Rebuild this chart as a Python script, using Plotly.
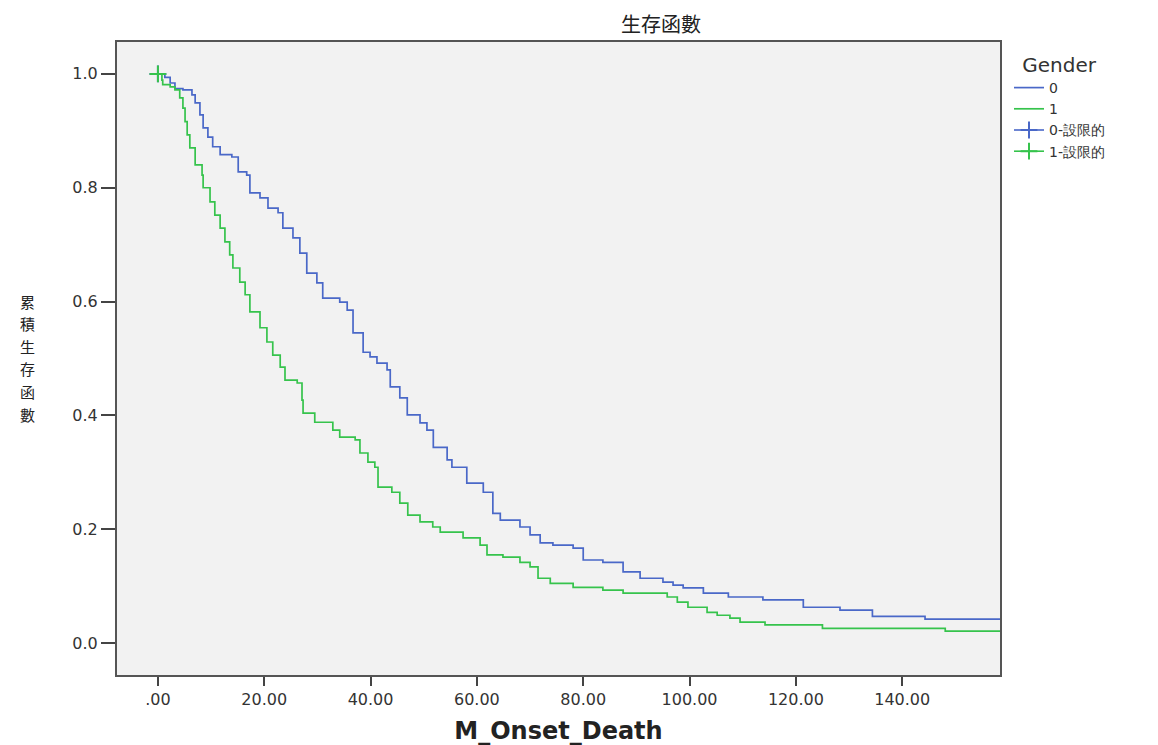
import plotly.graph_objects as go

# Gender 0 (blue) Kaplan-Meier steps: time, survival after step
t0 = [0, 1.3, 2.3, 3.2, 4.7, 6.4, 7.0, 7.9, 8.5, 9.4, 10.3, 11.7, 13.9, 15.1, 16.7, 17.3,
      19.2, 20.7, 22.6, 23.5, 25.4, 26.7, 28.0, 29.9, 31.0, 34.2, 35.6, 36.7, 38.6, 39.9,
      41.2, 43.1, 43.7, 45.5, 46.9, 49.3, 50.6, 51.8, 54.4, 55.3, 58.1, 61.2, 63.0, 64.4,
      68.1, 70.0, 71.9, 74.3, 78.1, 80.0, 83.7, 87.5, 90.7, 95.0, 96.9, 98.8, 102.6,
      107.3, 113.8, 121.4, 128.3, 134.4, 144.3, 158.5]
s0 = [1.0, 0.994, 0.984, 0.974, 0.972, 0.963, 0.949, 0.928, 0.905, 0.889, 0.872, 0.858,
      0.854, 0.828, 0.822, 0.791, 0.782, 0.764, 0.756, 0.729, 0.712, 0.685, 0.650, 0.633,
      0.606, 0.599, 0.585, 0.545, 0.511, 0.503, 0.492, 0.480, 0.450, 0.431, 0.401, 0.387,
      0.374, 0.344, 0.322, 0.309, 0.281, 0.265, 0.228, 0.216, 0.204, 0.190, 0.176, 0.172,
      0.167, 0.146, 0.142, 0.125, 0.114, 0.107, 0.102, 0.097, 0.088, 0.081, 0.076, 0.063,
      0.058, 0.047, 0.042, 0.042]

# Gender 1 (green)
t1 = [0, 0.75, 0.9, 2.3, 3.2, 4.1, 4.7, 5.1, 5.5, 6.0, 7.0, 8.3, 8.5, 9.8, 10.7, 11.7,
      12.6, 13.5, 14.1, 15.4, 16.4, 17.3, 19.2, 20.5, 21.6, 23.0, 23.9, 26.2, 27.1, 27.3,
      29.5, 32.9, 34.2, 37.1, 38.0, 39.5, 40.8, 41.4, 44.0, 45.5, 47.0, 49.3, 51.7, 53.1,
      57.4, 60.6, 61.9, 64.9, 68.1, 70.0, 71.5, 73.8, 78.1, 83.7, 87.5, 95.8, 97.7, 99.7,
      103.3, 105.2, 107.6, 109.5, 114.2, 125.0, 148.1, 158.5]
s1 = [1.0, 0.989, 0.981, 0.977, 0.972, 0.958, 0.940, 0.916, 0.893, 0.870, 0.840, 0.822,
      0.800, 0.775, 0.752, 0.729, 0.705, 0.682, 0.659, 0.634, 0.612, 0.582, 0.554, 0.529,
      0.506, 0.485, 0.462, 0.457, 0.427, 0.404, 0.388, 0.374, 0.362, 0.357, 0.334, 0.318,
      0.309, 0.274, 0.265, 0.246, 0.225, 0.213, 0.204, 0.195, 0.185, 0.172, 0.155, 0.151,
      0.142, 0.134, 0.114, 0.105, 0.098, 0.093, 0.088, 0.081, 0.072, 0.063, 0.054, 0.049,
      0.044, 0.037, 0.032, 0.026, 0.021, 0.021]

# censored observations
c0_t, c0_s = [0.0], [1.0]
c1_t, c1_s = [0.0], [1.0]

x_ticks = [0, 20, 40, 60, 80, 100, 120, 140]
x_labels = [".00", "20.00", "40.00", "60.00", "80.00", "100.00", "120.00", "140.00"]
y_ticks = [0.0, 0.2, 0.4, 0.6, 0.8, 1.0]
y_labels = ["0.0", "0.2", "0.4", "0.6", "0.8", "1.0"]
y_title_chars = ["累", "積", "生", "存", "函", "數"]

BLUE = "#4a68c8"
GREEN = "#36c34c"
FONT = "DejaVu Sans"
CJK = "Noto Sans CJK TC"

fig = go.Figure()
fig.add_trace(go.Scatter(x=t0, y=s0, mode="lines", line=dict(color=BLUE, width=1.7, shape="hv"),
                         name="0"))
fig.add_trace(go.Scatter(x=t1, y=s1, mode="lines", line=dict(color=GREEN, width=1.7, shape="hv"),
                         name="1"))
fig.add_trace(go.Scatter(x=c0_t, y=c0_s, mode="lines+markers", name="0-設限的",
                         line=dict(color=BLUE, width=1.6),
                         marker=dict(symbol="cross-thin", size=12, line=dict(color=BLUE, width=2))))
fig.add_trace(go.Scatter(x=c1_t, y=c1_s, mode="lines+markers", name="1-設限的",
                         line=dict(color=GREEN, width=1.6),
                         marker=dict(symbol="cross-thin", size=12, line=dict(color=GREEN, width=2))))

# page body has an 8px margin, so the figure is sized to land the plot area on the reference
fig.update_layout(
    width=1150, height=737,
    margin=dict(l=109, r=158, t=34, b=70, autoexpand=False),
    paper_bgcolor="white", plot_bgcolor="#f2f2f2",
    font=dict(family=FONT, size=16, color="#333333"),
    showlegend=True,
    legend=dict(x=(1009 - 117) / 883, y=(675 - 46) / 633, xref="paper", yref="paper",
                xanchor="left", yanchor="top",
                title=dict(text="Gender", side="top center", font=dict(size=20, color="#333333")),
                font=dict(size=14, color="#333333"),
                bgcolor="rgba(0,0,0,0)", tracegroupgap=0, itemwidth=30),
    xaxis=dict(range=[-7.7, 158.4], tickvals=x_ticks, ticktext=x_labels,
               ticks="outside", ticklen=9, tickwidth=2, tickcolor="#444",
               showline=True, linecolor="#555", linewidth=2, mirror=True,
               showgrid=False, zeroline=False, automargin=False,
               tickfont=dict(size=16, color="#333"),
               title=dict(text="<b>M_Onset_Death</b>", font=dict(size=24, color="#222"), standoff=14)),
    yaxis=dict(range=[-0.056, 1.056], tickvals=y_ticks, ticktext=y_labels,
               ticks="outside", ticklen=14, tickwidth=2, tickcolor="#444",
               showline=True, linecolor="#555", linewidth=2, mirror=True,
               showgrid=False, zeroline=False, automargin=False,
               tickfont=dict(size=16, color="#333")),
)

fig.add_annotation(text="生存函數", xref="paper", yref="paper", x=(661 - 117) / 883,
                   y=(675 - 24) / 633,
                   xanchor="center", yanchor="middle", showarrow=False,
                   font=dict(size=20, color="#222", family=CJK))
for i, ch in enumerate(y_title_chars):
    ysc = 301 + i * 22.6
    fig.add_annotation(text=ch, xref="paper", yref="paper",
                       x=(27 - 117) / 883, y=(675 - ysc) / 633, xanchor="center", yanchor="middle",
                       showarrow=False, font=dict(size=15, color="#222", family=CJK))

fig.write_html("out.html")
